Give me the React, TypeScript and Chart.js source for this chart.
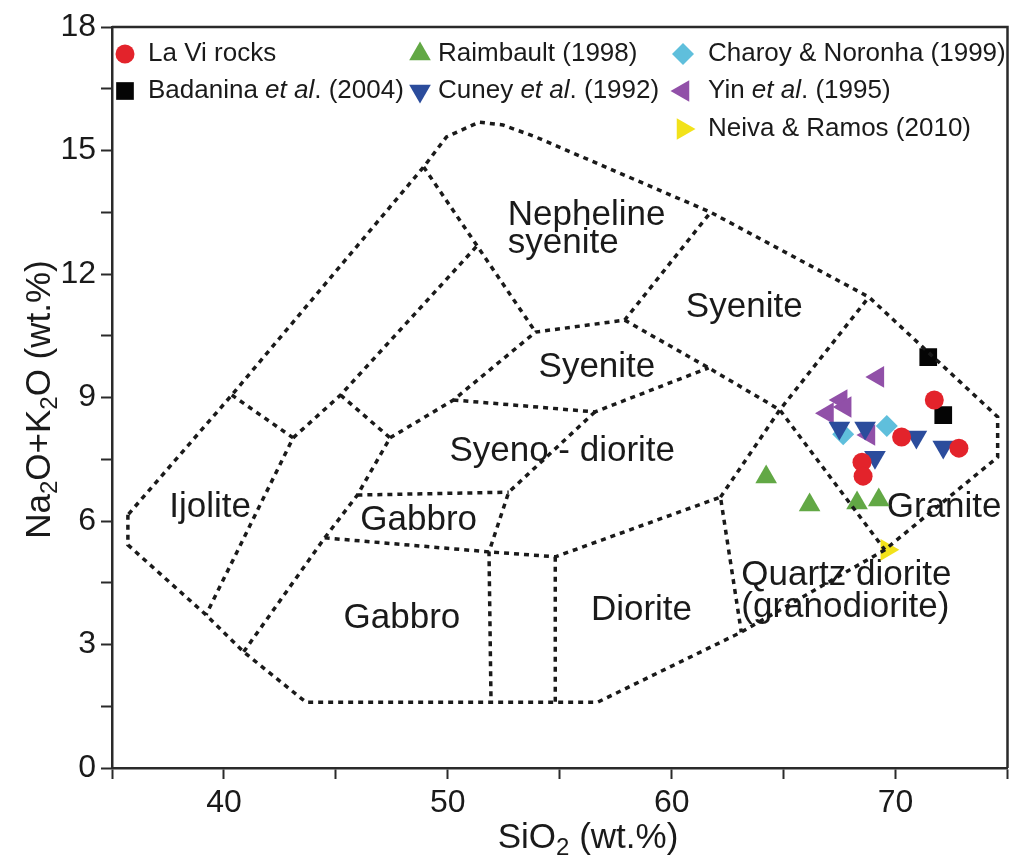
import React, { useEffect, useRef } from 'react';
import { Chart, registerables } from 'chart.js';
import { drawPoint } from 'chart.js/helpers';

Chart.register(...registerables);

// ---------------- data ----------------
const xTickLabels = [40, 50, 60, 70];
const yTickLabels = [0, 3, 6, 9, 12, 15, 18];

const laViX = [71.73, 70.27, 72.83, 68.5, 68.55];
const laViY = [8.94, 8.04, 7.77, 7.43, 7.09];

const badaninaX = [71.46, 72.13];
const badaninaY = [9.98, 8.57];

const raimbaultX = [64.22, 66.16, 68.28, 69.25];
const raimbaultY = [7.07, 6.39, 6.44, 6.51];

const cuneyX = [67.49, 68.64, 70.93, 72.13, 69.08];
const cuneyY = [8.26, 8.26, 8.04, 7.8, 7.55];

const charoyX = [67.66, 69.61];
const charoyY = [8.11, 8.31];

const yinX = [69.21, 67.57, 66.96, 67.75, 68.81];
const yinY = [9.5, 8.94, 8.62, 8.77, 8.09];

const neivaX = [69.61];
const neivaY = [5.3];

// TAS (plutonic) field boundaries, [SiO2, Na2O+K2O]
const outerBoundary = [
  [35.71, 6.15], [35.71, 5.42], [39.2, 3.72], [40.88, 2.82], [43.66, 1.6],
  [51.93, 1.6], [54.8, 1.6], [56.7, 1.6], [63.11, 3.3], [69.52, 5.3],
  [74.56, 7.55], [74.56, 8.53], [68.81, 11.44], [61.74, 13.5], [53.92, 15.33],
  [52.46, 15.62], [51.4, 15.69], [49.94, 15.33], [48.92, 14.6], [40.35, 9.06],
  [35.71, 6.15],
];
const lineIjolite = [[40.35, 9.06], [43.09, 8.02], [39.2, 3.72]];
const lineUpperLeft = [[43.09, 8.02], [45.21, 9.06], [51.3, 12.68]];
const lineNephLeft = [[48.92, 14.6], [53.92, 10.59]];
const lineGabbroLeft = [[45.21, 9.06], [47.42, 8.02], [45.96, 6.63], [44.5, 5.59], [40.88, 2.82]];
const lineSyeniteBase = [[47.42, 8.02], [50.25, 8.94], [53.92, 10.59], [57.9, 10.88], [61.74, 13.5]];
const lineSyeniteSplit = [[57.9, 10.88], [61.65, 9.72], [64.83, 8.7], [69.52, 5.3]];
const lineSyenoTop = [[50.25, 8.94], [56.57, 8.65], [61.65, 9.72]];
const lineGabbroRight = [[56.57, 8.65], [52.72, 6.7], [51.84, 5.25], [51.93, 1.6]];
const lineGabbroTop = [[45.96, 6.63], [52.72, 6.7]];
const lineDioriteTop = [[44.5, 5.59], [51.84, 5.25], [54.8, 5.13], [62.18, 6.58], [63.11, 3.3]];
const lineDioriteLeft = [[54.8, 5.13], [54.8, 1.6]];
const lineGranite = [[62.18, 6.58], [64.83, 8.7], [68.81, 11.44]];

const boundaries = [
  outerBoundary, lineIjolite, lineUpperLeft, lineNephLeft, lineGabbroLeft,
  lineSyeniteBase, lineSyeniteSplit, lineSyenoTop, lineGabbroRight,
  lineGabbroTop, lineDioriteTop, lineDioriteLeft, lineGranite,
];

// field names
const regionNames = [
  'Nepheline', 'syenite', 'Syenite', 'Syenite', 'Syeno - diorite', 'Gabbro',
  'Gabbro', 'Ijolite', 'Diorite', 'Quartz diorite', '(granodiorite)', 'Granite',
];
const regionX = [52.68, 52.68, 63.24, 56.66, 55.11, 48.7, 47.95, 39.38, 58.65, 63.11, 63.11, 72.17];
const regionY = [13.43, 12.75, 11.2, 9.74, 7.68, 6.02, 3.64, 6.34, 3.84, 4.69, 3.91, 6.34];
const regionAlign = ['left', 'left', 'center', 'center', 'center', 'center', 'center', 'center', 'center', 'left', 'left', 'center'];

// ---------------- styles ----------------
const FONT = '"Liberation Sans", Arial, Helvetica, sans-serif';
const AXIS_COLOR = '#2a2a2a';
const LINE_COLOR = '#1a1a1a';

type Seg = { t: string; sub?: boolean; it?: boolean };

const series = [
  { name: [{ t: 'La Vi rocks' }], xs: laViX, ys: laViY, color: '#e3232b', style: 'circle', radius: 9.5, rotation: 0, col: 0, row: 0 },
  { name: [{ t: 'Badanina ' }, { t: 'et al', it: true }, { t: '. (2004)' }], xs: badaninaX, ys: badaninaY, color: '#050505', style: 'rect', radius: 12.5, rotation: 0, col: 0, row: 1 },
  { name: [{ t: 'Raimbault (1998)' }], xs: raimbaultX, ys: raimbaultY, color: '#62a845', style: 'triangle', radius: 12.5, rotation: 0, col: 1, row: 0 },
  { name: [{ t: 'Cuney ' }, { t: 'et al', it: true }, { t: '. (1992)' }], xs: cuneyX, ys: cuneyY, color: '#2b4c9c', style: 'triangle', radius: 12.5, rotation: 180, col: 1, row: 1 },
  { name: [{ t: 'Charoy & Noronha (1999)' }], xs: charoyX, ys: charoyY, color: '#5fbfdc', style: 'rectRot', radius: 11, rotation: 0, col: 2, row: 0 },
  { name: [{ t: 'Yin ' }, { t: 'et al', it: true }, { t: '. (1995)' }], xs: yinX, ys: yinY, color: '#9150a8', style: 'triangle', radius: 12.5, rotation: -90, col: 2, row: 1 },
  { name: [{ t: 'Neiva & Ramos (2010)' }], xs: neivaX, ys: neivaY, color: '#f2e21a', style: 'triangle', radius: 12.5, rotation: 90, col: 2, row: 2 },
];

const legendMarkerX = [125, 420, 683];
const legendTextX = [148, 438, 708];
const legendRowY = [54, 91, 129];

function segFont(size: number, s: Seg) {
  const sz = s.sub ? Math.round(size * 0.68) : size;
  return `${s.it ? 'italic ' : ''}${sz}px ${FONT}`;
}
function measureSegs(ctx: CanvasRenderingContext2D, segs: Seg[], size: number) {
  let w = 0;
  for (const s of segs) {
    ctx.font = segFont(size, s);
    w += ctx.measureText(s.t).width;
  }
  return w;
}
function drawSegs(ctx: CanvasRenderingContext2D, segs: Seg[], x: number, y: number, size: number) {
  let cx = x;
  ctx.textAlign = 'left';
  ctx.textBaseline = 'middle';
  for (const s of segs) {
    ctx.font = segFont(size, s);
    ctx.fillText(s.t, cx, s.sub ? y + size * 0.3 : y);
    cx += ctx.measureText(s.t).width;
  }
}

const xTitle: Seg[] = [{ t: 'SiO' }, { t: '2', sub: true }, { t: ' (wt.%)' }];
const yTitle: Seg[] = [{ t: 'Na' }, { t: '2', sub: true }, { t: 'O+K' }, { t: '2', sub: true }, { t: 'O (wt.%)' }];

const overlayPlugin = {
  id: 'tasOverlay',
  beforeDatasetsDraw(chart: any) {
    const ctx: CanvasRenderingContext2D = chart.ctx;
    const xs = chart.scales.x;
    const ys = chart.scales.y;
    ctx.save();
    ctx.fillStyle = '#1a1a1a';
    ctx.textBaseline = 'middle';
    ctx.font = `35px ${FONT}`;
    regionNames.forEach((n, i) => {
      ctx.textAlign = regionAlign[i] as CanvasTextAlign;
      ctx.fillText(n, xs.getPixelForValue(regionX[i]), ys.getPixelForValue(regionY[i]));
    });
    ctx.restore();
  },
  afterDraw(chart: any) {
    const ctx: CanvasRenderingContext2D = chart.ctx;
    const a = chart.chartArea;
    ctx.save();
    // frame top + right
    ctx.strokeStyle = AXIS_COLOR;
    ctx.lineWidth = 2.5;
    ctx.beginPath();
    ctx.moveTo(a.left, a.top);
    ctx.lineTo(a.right, a.top);
    ctx.lineTo(a.right, a.bottom);
    ctx.stroke();

    // legend
    series.forEach((s) => {
      const y = legendRowY[s.row];
      ctx.fillStyle = s.color;
      ctx.strokeStyle = s.color;
      drawPoint(ctx, { pointStyle: s.style, radius: s.radius, rotation: s.rotation, borderWidth: 0 } as any, legendMarkerX[s.col], y);
      ctx.fillStyle = '#1a1a1a';
      drawSegs(ctx, s.name as Seg[], legendTextX[s.col], y, 26);
    });

    // axis titles
    ctx.fillStyle = '#1a1a1a';
    const tsize = 35;
    const wx = measureSegs(ctx, xTitle, tsize);
    drawSegs(ctx, xTitle, 588 - wx / 2, 838, tsize);
    const wy = measureSegs(ctx, yTitle, tsize);
    ctx.translate(40, (a.top + a.bottom) / 2 + 2);
    ctx.rotate(-Math.PI / 2);
    drawSegs(ctx, yTitle, -wy / 2, 0, tsize);
    ctx.restore();
  },
};

export default function App() {
  const ref = useRef<HTMLCanvasElement | null>(null);
  useEffect(() => {
    if (!ref.current) return;
    const datasets: any[] = [];
    boundaries.forEach((b) => {
      datasets.push({
        type: 'scatter',
        data: b.map((p) => ({ x: p[0], y: p[1] })),
        showLine: true,
        borderColor: LINE_COLOR,
        borderWidth: 3.5,
        borderDash: [5, 5],
        pointRadius: 0,
        pointHoverRadius: 0,
        fill: false,
        tension: 0,
      });
    });
    series.forEach((s) => {
      datasets.push({
        type: 'scatter',
        data: s.xs.map((x, i) => ({ x, y: s.ys[i] })),
        pointStyle: s.style,
        pointRadius: s.radius,
        rotation: s.rotation,
        backgroundColor: s.color,
        borderColor: s.color,
        borderWidth: 0,
        showLine: false,
      });
    });
    const chart = new Chart(ref.current, {
      type: 'scatter',
      data: { datasets },
      options: {
        animation: false,
        responsive: false,
        devicePixelRatio: 1,
        layout: { padding: { left: 0, right: 2, top: 27, bottom: 0 } },
        plugins: { legend: { display: false }, tooltip: { enabled: false } },
        events: [],
        scales: {
          x: {
            type: 'linear',
            min: 35,
            max: 75,
            afterFit: (s: any) => { s.height = 94; },
            ticks: {
              stepSize: 5,
              autoSkip: false,
              maxRotation: 0,
              padding: 5,
              color: '#1a1a1a',
              font: { family: FONT, size: 32 },
              callback: (v: any) => (xTickLabels.includes(Number(v)) ? String(v) : ''),
            },
            grid: { drawOnChartArea: false, drawTicks: true, tickLength: 11, tickWidth: 2, tickColor: AXIS_COLOR },
            border: { display: true, color: AXIS_COLOR, width: 2.5 },
          },
          y: {
            type: 'linear',
            min: 0,
            max: 18,
            afterFit: (s: any) => { s.width = 112; },
            ticks: {
              stepSize: 1.5,
              autoSkip: false,
              padding: 5,
              color: '#1a1a1a',
              font: { family: FONT, size: 32 },
              callback: (v: any) => (yTickLabels.includes(Number(v)) ? String(v) : ''),
            },
            grid: { drawOnChartArea: false, drawTicks: true, tickLength: 11, tickWidth: 2, tickColor: AXIS_COLOR },
            border: { display: true, color: AXIS_COLOR, width: 2.5 },
          },
        },
      },
      plugins: [overlayPlugin],
    } as any);
    return () => chart.destroy();
  }, []);
  return (
    <div style={{ position: 'fixed', left: 0, top: 0, width: 1020, height: 862, background: '#fff' }}>
      <canvas ref={ref} width={1020} height={862} style={{ display: 'block' }} />
    </div>
  );
}
